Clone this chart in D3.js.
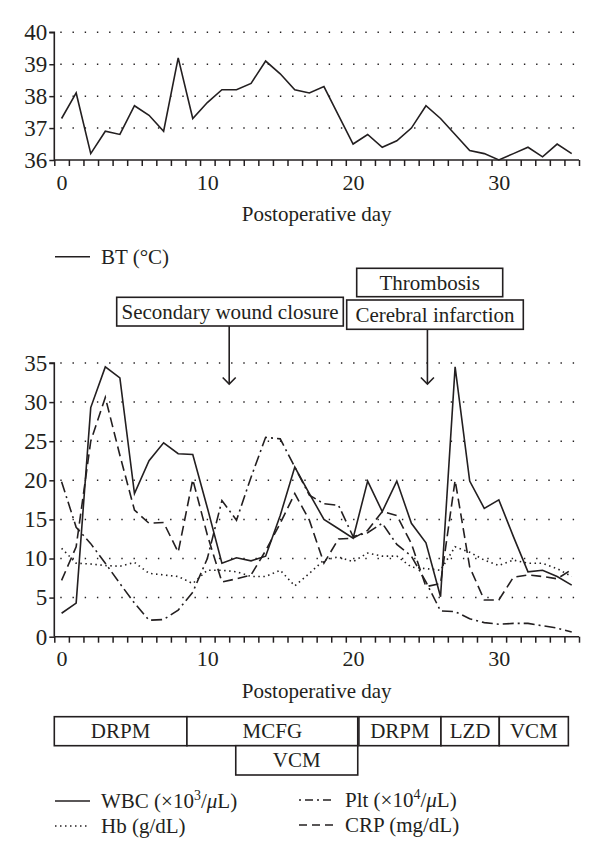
<!DOCTYPE html>
<html><head><meta charset="utf-8">
<script src="https://cdn.jsdelivr.net/npm/d3@7"></script>
<style>
body{margin:0;background:#fff}
text{font-family:"Liberation Serif","Times New Roman",serif;font-size:21px;fill:#231f20}
</style>
</head><body>
<svg id="c" width="600" height="860"></svg>
<script>
// ---------------- data ----------------
const days = [0,1,2,3,4,5,6,7,8,9,10,11,12,13,14,15,16,17,18,19,20,21,22,23,24,25,26,27,28,29,30,31,32,33,34,35];
const dayLabels = [0,10,20,30];
const btTicks = [36,37,38,39,40];
const labTicks = [0,5,10,15,20,25,30,35];
const bt  = [37.3,38.1,36.2,36.9,36.8,37.7,37.4,36.9,39.2,37.3,37.8,38.2,38.2,38.4,39.1,38.7,38.2,38.1,38.3,37.4,36.5,36.8,36.4,36.6,37.0,37.7,37.3,36.8,36.3,36.2,36.0,36.2,36.4,36.1,36.5,36.2];
const wbc = [3.0,4.3,29.3,34.5,33.1,18.3,22.5,24.8,23.4,23.3,16.5,9.4,10.1,9.7,10.3,15.5,21.7,18.3,15.0,13.8,12.6,19.9,16.0,19.9,14.5,12.0,5.1,34.5,19.9,16.4,17.5,12.8,8.3,8.5,7.7,6.6];
const hb  = [11.3,9.4,9.3,9.1,9.0,9.5,8.1,7.9,7.7,6.8,8.5,8.5,8.3,7.7,7.7,8.5,6.5,8.1,9.8,10.2,9.6,10.7,10.3,10.3,8.9,8.7,8.5,11.5,10.8,9.8,9.1,9.8,9.4,9.4,8.7,7.7];
const plt = [19.8,14.0,11.9,9.4,6.8,4.3,2.1,2.2,3.4,5.7,10.0,17.4,14.9,20.4,25.5,25.3,21.7,18.1,17.0,16.8,12.8,13.3,14.5,11.8,10.3,7.0,3.3,3.2,2.3,1.8,1.6,1.7,1.7,1.4,1.1,0.6];
const crp = [7.2,11.5,25.0,30.6,23.2,16.2,14.5,14.6,10.8,20.1,13.0,7.0,7.4,7.9,11.0,14.5,18.3,14.9,9.4,12.5,12.6,13.6,16.0,15.5,11.9,6.4,6.8,20.0,8.9,4.7,4.7,7.6,7.9,7.7,7.4,8.6];
const eventNames = ["Secondary wound closure","Cerebral infarction","Thrombosis"];
const eventDays = [11.5,25.1];
const treatNames = ["DRPM","MCFG","VCM","DRPM","LZD","VCM"];
const treatStart = [-0.5,8.6,11.95,20.4,26.03,30.03];
const treatEnd   = [8.6,20.32,20.32,26.03,30.03,34.77];
const treatRow   = [0,0,1,0,0,0];

// ---------------- layout ----------------
const svg = d3.select("#c");
const ink = "#231f20";
const L = 54.3, R = 579;
const x = d3.scaleLinear().domain([-0.5,35.5]).range([L,R]);
const yTop = d3.scaleLinear().domain([36,40]).range([160,32.3]);
const yBot = d3.scaleLinear().domain([0,35]).range([636.7,363]);

function panel(y, ticks, gridVals, axisY){
  const g = svg.append("g");
  g.selectAll(".grid").data(gridVals).join("line")
    .attr("x1",L+6).attr("x2",R-4)
    .attr("y1",d=>y(d)).attr("y2",d=>y(d))
    .attr("stroke",ink).attr("stroke-width",1.5)
    .attr("stroke-dasharray","1.4,10.8");
  const ya = g.append("g").attr("transform",`translate(${L},0)`)
    .call(d3.axisLeft(y).tickValues(ticks).tickSize(5).tickPadding(2).tickFormat(d3.format("d")));
  ya.select(".domain").attr("stroke",ink).attr("stroke-width",1.6).attr("d",`M-5,${y.range()[1]}H0V${y.range()[0]}`);
  ya.selectAll(".tick line").attr("stroke",ink).attr("stroke-width",1.5);
  ya.selectAll("text").attr("font-size",null).attr("font-family",null).style("font-size","23px");
  const xa = g.append("g").attr("transform",`translate(0,${axisY})`)
    .call(d3.axisBottom(x).tickValues(d3.range(-0.5,35.6,1)).tickSize(6).tickSizeOuter(0).tickFormat(""));
  xa.select(".domain").attr("stroke",ink).attr("stroke-width",1.6).attr("d",`M${L},0H${R}`);
  xa.selectAll(".tick line").attr("stroke",ink).attr("stroke-width",1.5);
  const xl = g.append("g").attr("transform",`translate(0,${axisY})`)
    .call(d3.axisBottom(x).tickValues(dayLabels).tickSize(0).tickPadding(14).tickFormat(d3.format("d")));
  xl.select(".domain").remove();
  xl.selectAll("text").attr("font-size",null).attr("font-family",null).style("font-size","22px");
  g.append("text").attr("x",(L+R)/2).attr("y",axisY+61).attr("text-anchor","middle").text("Postoperative day");
  return g;
}

// top panel
const gt = panel(yTop, btTicks, [37,38,39,40], 160);
gt.append("path").datum(bt)
  .attr("d", d3.line().x((d,i)=>x(days[i])).y(d=>yTop(d)))
  .attr("fill","none").attr("stroke",ink).attr("stroke-width",1.6).attr("stroke-linejoin","miter");

// BT legend
svg.append("line").attr("x1",55).attr("x2",90).attr("y1",256.7).attr("y2",256.7).attr("stroke",ink).attr("stroke-width",1.5);
svg.append("text").attr("x",101).attr("y",264).text("BT (°C)");

// bottom panel
const gb = panel(yBot, labTicks, [5,10,15,20,25,30,35], 636.7);
const series = [
  {v:wbc, dash:null},
  {v:hb,  dash:"1.5,3.5"},
  {v:plt, dash:"11,4,2,4"},
  {v:crp, dash:"10,5"}
];
series.forEach(s=>{
  gb.append("path").datum(s.v)
    .attr("d", d3.line().x((d,i)=>x(days[i])).y(d=>yBot(d)))
    .attr("fill","none").attr("stroke",ink).attr("stroke-width",1.6)
    .attr("stroke-dasharray",s.dash);
});

// event annotations
function box(x0,y0,x1,y1,label){
  svg.append("rect").attr("x",x0).attr("y",y0).attr("width",x1-x0).attr("height",y1-y0)
    .attr("fill","#fff").attr("stroke",ink).attr("stroke-width",1.6);
  svg.append("text").attr("x",(x0+x1)/2).attr("y",(y0+y1)/2+7).attr("text-anchor","middle").text(label);
}
box(356.7,268.3,502.7,296.7,eventNames[2]);
box(116.7,297.3,343.3,326,eventNames[0]);
box(346.7,300,523.3,329.3,eventNames[1]);
[[eventDays[0],326],[eventDays[1],329.3]].forEach(([d,y0])=>{
  const ax = x(d), tip = 384;
  svg.append("line").attr("x1",ax).attr("x2",ax).attr("y1",y0).attr("y2",tip).attr("stroke",ink).attr("stroke-width",1.6);
  svg.append("path").attr("d",`M${ax-6.5},${tip-6.5}L${ax},${tip}L${ax+6.5},${tip-6.5}`)
    .attr("fill","none").attr("stroke",ink).attr("stroke-width",1.6);
});

// treatments
treatNames.forEach((n,i)=>{
  const y0 = treatRow[i]===0 ? 716.7 : 745.7;
  const y1 = treatRow[i]===0 ? 745.7 : 775;
  box(x(treatStart[i]), y0, x(treatEnd[i]), y1, n);
});

// legend
const leg = [
  {x:55, y:801, dash:null, parts:[["WBC (×10"],["3","sup"],["/"],["μ","it"],["L)"]]},
  {x:55, y:826, dash:"1.5,3.5", parts:[["Hb (g/dL)"]]},
  {x:299, y:800, dash:"2,4,8,4", parts:[["Plt (×10"],["4","sup"],["/"],["μ","it"],["L)"]]},
  {x:299, y:825, dash:"8,5", parts:[["CRP (mg/dL)"]]}
];
leg.forEach(l=>{
  svg.append("line").attr("x1",l.x).attr("x2",l.x+35).attr("y1",l.y).attr("y2",l.y)
    .attr("stroke",ink).attr("stroke-width",1.5).attr("stroke-dasharray",l.dash);
  const t = svg.append("text").attr("x",l.x+46).attr("y",l.y+7);
  l.parts.forEach(p=>{
    const ts = t.append("tspan").text(p[0]);
    if(p[1]==="sup") ts.attr("dy",-8).style("font-size","14px");
    if(p[1]==="it") ts.style("font-style","italic");
    if(p[0]==="/") ts.attr("dy",8);
  });
});
</script>
</body></html>
